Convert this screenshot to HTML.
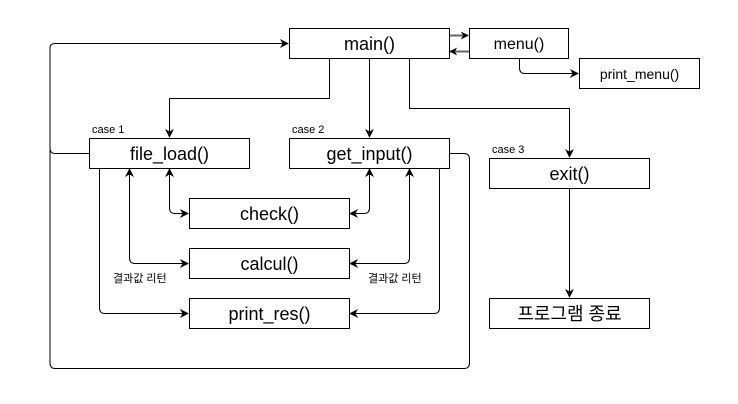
<!DOCTYPE html>
<html><head><meta charset="utf-8"><style>
html,body{margin:0;padding:0;background:#fff;}
svg{display:block;}
text{font-family:"Liberation Sans","Noto Sans CJK KR",sans-serif;fill:#000;}
</style></head><body>
<svg width="738" height="404" viewBox="0 0 738 404" xmlns="http://www.w3.org/2000/svg">
<defs>
<marker id="a" viewBox="0 0 10 10" refX="9" refY="5" markerWidth="9" markerHeight="9" orient="auto-start-reverse" markerUnits="userSpaceOnUse"><path d="M0,0 L10,5 L0,10 L3,5 z" fill="#000"/></marker>
<marker id="g" viewBox="0 0 10 10" refX="9" refY="5" markerWidth="8" markerHeight="8" orient="auto-start-reverse" markerUnits="userSpaceOnUse"><path d="M0,0 L10,5 L0,10 L3,5 z" fill="#000"/></marker>
</defs>
<g fill="none" stroke="#000" stroke-width="1">
<path d="M89.5,153.5 H55 Q50,153.5 50,148 V48 Q50,43.5 55,43.5 H288" marker-end="url(#a)"/>
<path d="M449.5,153.5 H464 Q469.5,153.5 469.5,159 V363 Q469.5,368.5 464,368.5 H55 Q50,368.5 50,363 V150"/>
<path d="M329.5,58 V98.5 H169.5 V137" marker-end="url(#a)"/>
<path d="M369.5,58 V137" marker-end="url(#a)"/>
<path d="M409.5,58 V108.5 H569.5 V157" marker-end="url(#a)"/>
<path d="M569.5,188 V297" marker-end="url(#a)"/>
<path d="M449,35.5 H468" stroke="#666" stroke-width="2" marker-end="url(#g)"/>
<path d="M469,51.5 H450" stroke="#666" stroke-width="2" marker-end="url(#g)"/>
<path d="M519.5,58 V68 Q519.5,73.5 525,73.5 H578" marker-end="url(#a)"/>
<path d="M99.5,168 V308 Q99.5,313.5 105,313.5 H188" marker-end="url(#a)"/>
<path d="M129.5,169 V258 Q129.5,263.5 135,263.5 H188" marker-start="url(#a)" marker-end="url(#a)"/>
<path d="M169.5,169 V208 Q169.5,213.5 175,213.5 H188" marker-start="url(#a)" marker-end="url(#a)"/>
<path d="M369.5,169 V208 Q369.5,213.5 364,213.5 H350" marker-start="url(#a)" marker-end="url(#a)"/>
<path d="M409.5,169 V258 Q409.5,263.5 404,263.5 H350" marker-start="url(#a)" marker-end="url(#a)"/>
<path d="M439.5,168 V308 Q439.5,313.5 434,313.5 H350" marker-end="url(#a)"/>
<rect x="289.5" y="28.5" width="160" height="30" fill="#fff"/>
<rect x="469.5" y="28.5" width="99" height="30" fill="#fff"/>
<rect x="579.5" y="58.5" width="120" height="30" fill="#fff"/>
<rect x="89.5" y="138.5" width="160" height="30" fill="#fff"/>
<rect x="289.5" y="138.5" width="160" height="30" fill="#fff"/>
<rect x="489.5" y="158.5" width="160" height="30" fill="#fff"/>
<rect x="189.5" y="198.5" width="160" height="30" fill="#fff"/>
<rect x="189.5" y="248.5" width="160" height="30" fill="#fff"/>
<rect x="189.5" y="298.5" width="160" height="30" fill="#fff"/>
<rect x="489.5" y="298.5" width="160" height="30" fill="#fff"/>
</g>
<g font-size="18" text-anchor="middle">
<text x="369.5" y="50">main()</text>
<text x="519" y="49" font-size="16">menu()</text>
<text x="639.5" y="79" font-size="14">print_menu()</text>
<text x="169.5" y="160">file_load()</text>
<text x="369.5" y="160">get_input()</text>
<text x="569.5" y="180">exit()</text>
<text x="269.5" y="220">check()</text>
<text x="269.5" y="270">calcul()</text>
<text x="269.5" y="320">print_res()</text>
<text x="569.5" y="320">프로그램 종료</text>
</g>
<g font-size="11">
<text x="92" y="133">case 1</text>
<text x="292" y="133">case 2</text>
<text x="492" y="153">case 3</text>
<text x="113" y="282">결과값 리턴</text>
<text x="368" y="282">결과값 리턴</text>
</g>
</svg>
</body></html>
